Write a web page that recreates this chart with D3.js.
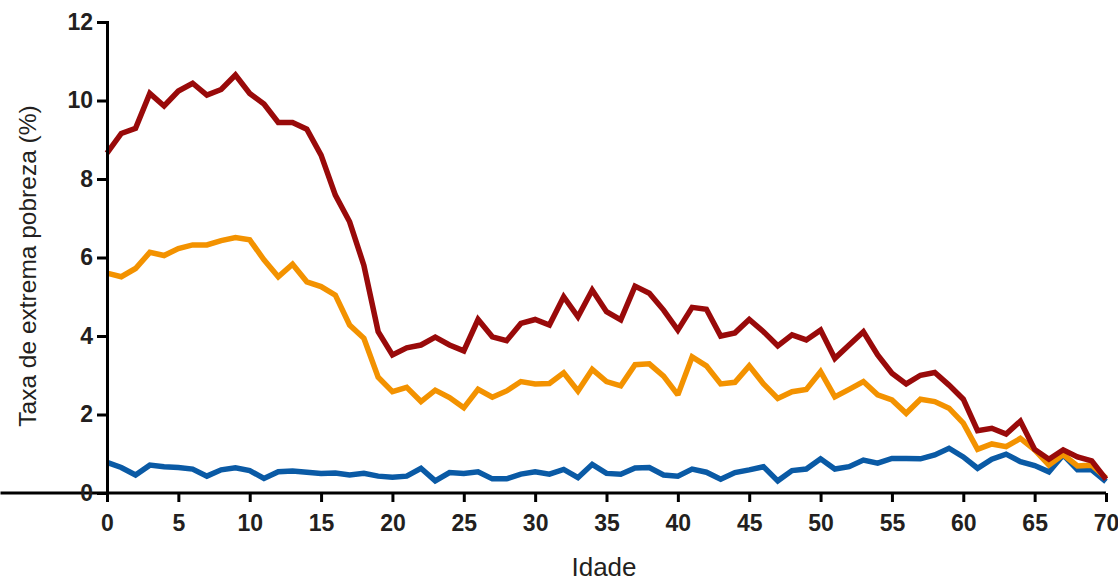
<!DOCTYPE html>
<html><head><meta charset="utf-8">
<script src="https://cdn.jsdelivr.net/npm/d3@7"></script>
<style>body{margin:0;background:#fff}</style>
</head><body>
<svg id="c" width="1118" height="582"></svg>
<script>
const ages = d3.range(0, 71);
const redSeries = [8.66,9.16,9.29,10.18,9.86,10.24,10.44,10.14,10.28,10.65,10.18,9.91,9.44,9.44,9.27,8.61,7.59,6.91,5.8,4.11,
3.52,3.70,3.77,3.97,3.77,3.62,4.42,3.98,3.88,4.32,4.42,4.28,5.0,4.49,5.17,4.62,4.41,5.27,5.09,4.66,
4.15,4.73,4.68,4.0,4.08,4.42,4.11,3.75,4.03,3.90,4.15,3.43,3.77,4.11,3.52,3.05,2.78,3.0,3.07,2.75,
2.39,1.59,1.65,1.5,1.83,1.11,0.86,1.1,0.92,0.82,0.35];
const orangeSeries = [5.6,5.51,5.72,6.13,6.05,6.23,6.32,6.32,6.43,6.51,6.45,5.94,5.51,5.83,5.38,5.26,5.04,4.28,3.94,2.95,
2.58,2.69,2.33,2.62,2.43,2.17,2.64,2.44,2.6,2.84,2.78,2.79,3.06,2.6,3.15,2.84,2.73,3.27,3.29,2.98,
2.5,3.47,3.24,2.78,2.82,3.24,2.78,2.41,2.58,2.64,3.09,2.45,2.64,2.84,2.5,2.37,2.03,2.39,2.33,2.16,
1.78,1.11,1.25,1.18,1.39,1.1,0.71,0.98,0.69,0.71,0.38];
const blueSeries = [0.78,0.65,0.46,0.71,0.67,0.65,0.61,0.43,0.59,0.64,0.57,0.37,0.54,0.56,0.53,0.5,0.51,0.46,0.5,0.43,
0.4,0.43,0.63,0.31,0.52,0.5,0.54,0.36,0.36,0.48,0.54,0.48,0.6,0.39,0.73,0.5,0.48,0.64,0.65,0.46,
0.43,0.61,0.53,0.35,0.52,0.59,0.67,0.31,0.57,0.61,0.87,0.61,0.67,0.84,0.76,0.88,0.88,0.87,0.97,1.14,
0.92,0.63,0.86,0.99,0.8,0.7,0.54,0.97,0.59,0.59,0.29];
const xTicks = d3.range(0, 71, 5);
const yTicks = [0,2,4,6,8,10,12];

const svg = d3.select("#c");
const x = d3.scaleLinear().domain([0,70]).range([107,1106]);
const y = d3.scaleLinear().domain([0,12]).range([493,22]);

const line = d3.line().x((d,i)=>x(ages[i])).y(d=>y(d));
const series = [[blueSeries,"#0a5aa5"],[orangeSeries,"#f39200"],[redSeries,"#990a0a"]];
series.forEach(([s,c])=>{
  svg.append("path").datum(s).attr("d",line).attr("fill","none")
    .attr("stroke",c).attr("stroke-width",5.5).attr("stroke-linejoin","miter").attr("stroke-miterlimit",2);
});

const xAxis = svg.append("g").attr("transform","translate(0,493)")
  .call(d3.axisBottom(x).tickValues(xTicks).tickSize(9).tickPadding(13).tickFormat(d3.format("d")));
const yAxis = svg.append("g").attr("transform","translate(107,0)")
  .call(d3.axisLeft(y).tickValues(yTicks).tickSize(10).tickPadding(4).tickFormat(d3.format("d")));
[xAxis,yAxis].forEach(g=>{
  g.select(".domain").attr("stroke","#000").attr("stroke-width",3);
  g.selectAll(".tick line").attr("stroke","#000").attr("stroke-width",3);
  g.selectAll(".tick text").attr("fill","#231f20")
    .style("font-family","Liberation Sans, Arial, sans-serif").style("font-size","23px").style("font-weight","bold");
});
xAxis.select(".domain").attr("d","M0.5,0H"+x(70));
svg.append("text").attr("x",604).attr("y",576).attr("text-anchor","middle")
  .attr("fill","#231f20").style("font-family","Liberation Sans, Arial, sans-serif").style("font-size","26px")
  .text("Idade");
svg.append("text").attr("transform","translate(36,266) rotate(-90)").attr("text-anchor","middle")
  .attr("fill","#231f20").style("font-family","Liberation Sans, Arial, sans-serif").style("font-size","24.5px")
  .text("Taxa de extrema pobreza (%)");
</script>
</body></html>
